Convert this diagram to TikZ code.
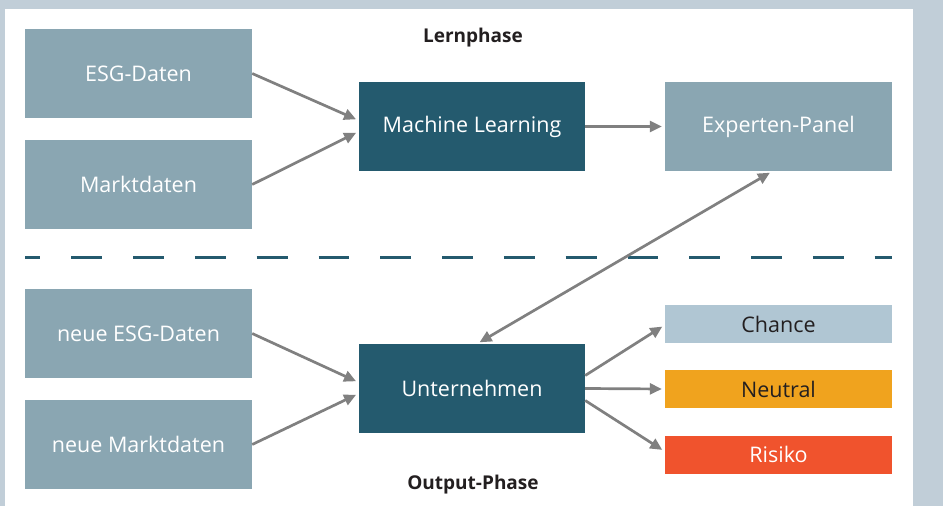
\documentclass[tikz,border=0pt]{standalone}
\usepackage{fontspec}
\setmainfont{Open Sans}
\usetikzlibrary{arrows.meta,calc}

\definecolor{bgblue}{HTML}{C1CED8}
\definecolor{boxgray}{HTML}{8AA6B2}
\definecolor{boxdark}{HTML}{245A6E}
\definecolor{chancecol}{HTML}{B0C6D3}
\definecolor{neutralcol}{HTML}{F0A31E}
\definecolor{risikocol}{HTML}{F0532D}
\definecolor{arrowgray}{HTML}{808080}
\definecolor{textdark}{HTML}{231F20}

\tikzset{
  inbox/.style={fill=boxgray,text=white,minimum width=227pt,minimum height=89pt,
    inner sep=0pt,font=\fontsize{21.5}{25}\selectfont},
  mlbox/.style={inbox,fill=boxdark,minimum width=226pt},
  resbox/.style={minimum width=227pt,minimum height=38pt,inner sep=0pt,
    font=\fontsize{21.5}{25}\selectfont},
  phase/.style={font=\bfseries\fontsize{19}{22}\selectfont,text=textdark},
  flow/.style={draw=arrowgray,line width=2.7pt,-{Triangle[length=12pt,width=11pt]},shorten >=3pt}
}

\begin{document}
\begin{tikzpicture}[x=1pt,y=-1pt]
% Hintergrund
\fill[bgblue] (0,0) rectangle (943,506);
\fill[white] (5,9) rectangle (913,506);
\useasboundingbox (0,0) rectangle (943,506);

% Lernphase
\node[phase] (lern) at (473,38) {Lernphase};
\node[inbox] (esg) at (138.5,73.5) {ESG-Daten};
\node[inbox] (markt) at (138.5,184.5) {Marktdaten};
\node[mlbox] (ml) at (472,126.5) {Machine Learning};
\node[inbox] (exp) at (778.5,126.5) {Experten-Panel};

\draw[flow] (esg.east) -- ($(ml.west)+(0,-6)$);
\draw[flow] (markt.east) -- ($(ml.west)+(0,5)$);
\draw[flow] (ml.east) -- (exp.west);

% Trennlinie
\draw[boxdark,line width=3pt,dash pattern=on 30.9pt off 30.9pt,dash phase=15.5pt] (25,257.5) -- (892,257.5);

% Output-Phase
\node[inbox] (neuesg) at (138.5,333.5) {neue ESG-Daten};
\node[inbox] (neumarkt) at (138.5,444.5) {neue Marktdaten};
\node[mlbox] (unt) at (472,388.5) {Unternehmen};
\node[resbox,fill=chancecol,text=textdark] (chance) at (778.5,324) {Chance};
\node[resbox,fill=neutralcol,text=textdark] (neutral) at (778.5,389) {Neutral};
\node[resbox,fill=risikocol,text=white] (risiko) at (778.5,454.5) {Risiko};
\node[phase] (outp) at (473,485) {Output-Phase};

\draw[flow] (neuesg.east) -- ($(unt.west)+(0,-6)$);
\draw[flow] (neumarkt.east) -- ($(unt.west)+(0,5)$);
\draw[flow,{Triangle[length=12pt,width=11pt]}-{Triangle[length=12pt,width=11pt]},shorten <=3pt] ($(unt.north)+(5,0)$) -- ($(exp.south)+(-6,0)$);
\draw[flow] ($(unt.east)+(0,-13)$) -- ($(chance.west)+(0,1)$);
\draw[flow] (unt.east) -- (neutral.west);
\draw[flow] ($(unt.east)+(0,12)$) -- ($(risiko.west)+(0,-3)$);
\end{tikzpicture}
\end{document}
